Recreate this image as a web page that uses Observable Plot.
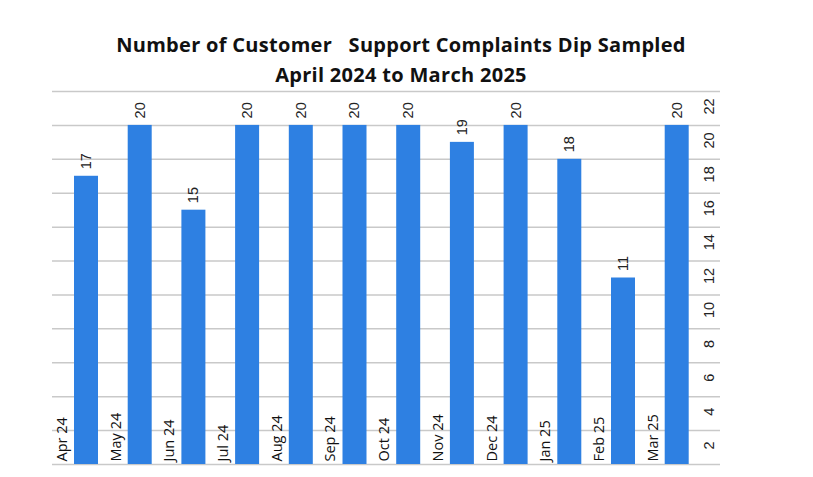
<!DOCTYPE html>
<html>
<head>
<meta charset="utf-8">
<script src="https://cdn.jsdelivr.net/npm/d3@7"></script>
<script src="https://cdn.jsdelivr.net/npm/@observablehq/plot@0.6"></script>
<style>
  body { margin: 0; background: #fff; }
  #title {
    width: 813px; height: 90px; box-sizing: border-box; padding: 30px 11px 0 0;
    text-align: center; font-family: "Open Sans", sans-serif; font-weight: 700;
    font-size: 20px; letter-spacing: 0.3px; line-height: 30px; color: #111; white-space: pre;
  }
</style>
</head>
<body>
<div id="title"><div>Number of Customer   Support Complaints Dip Sampled</div><div>April 2024 to March 2025</div></div>
<div id="chart"></div>
<script>
// Monthly count of sampled support complaints
const months = ["Apr 24", "May 24", "Jun 24", "Jul 24", "Aug 24", "Sep 24",
                "Oct 24", "Nov 24", "Dec 24", "Jan 25", "Feb 25", "Mar 25"];
const complaints = [17, 20, 15, 20, 20, 20, 20, 19, 20, 18, 11, 20];
const yTicks = [2, 4, 6, 8, 10, 12, 14, 16, 18, 20, 22];

const data = months.map((month, i) => ({month, value: complaints[i]}));

const chart = Plot.plot({
  width: 813,
  height: 387,
  marginTop: 1,
  marginBottom: 13,
  marginLeft: 52,
  marginRight: 93,
  style: {background: "#fff", overflow: "visible"},
  x: {type: "band", domain: months, range: [52, 696.4], padding: 0, round: false},
  y: {domain: [0, 22]},
  marks: [
    Plot.ruleY([0, ...yTicks], {stroke: "#c9c9c9", strokeWidth: 1.5}),
    Plot.barY(data, {x: "month", y: "value", fill: "#2e80e2", insetLeft: 22, insetRight: 7.7}),
    Plot.text(data, {
      x: "month", y: "value", text: d => String(d.value),
      rotate: -90, textAnchor: "start", lineAnchor: "middle",
      dx: 7, dy: -7, fontSize: 14.5, fill: "#222",
      fontFamily: "Liberation Sans, Arial, sans-serif"
    }),
    Plot.axisX({
      label: null, tickSize: 0, tickRotate: -90, textAnchor: "start", lineAnchor: "middle",
      dx: -17, dy: -12, fontSize: 14.5, fill: "#111", fontFamily: "Open Sans, sans-serif"
    }),
    Plot.axisY(yTicks, {
      anchor: "right", label: null, tickSize: 0, tickRotate: -90, lineAnchor: "middle",
      dx: -20, dy: 15, fontSize: 14.5, fill: "#222",
      fontFamily: "Liberation Sans, Arial, sans-serif"
    })
  ]
});
document.getElementById("chart").append(chart);
</script>
</body>
</html>
